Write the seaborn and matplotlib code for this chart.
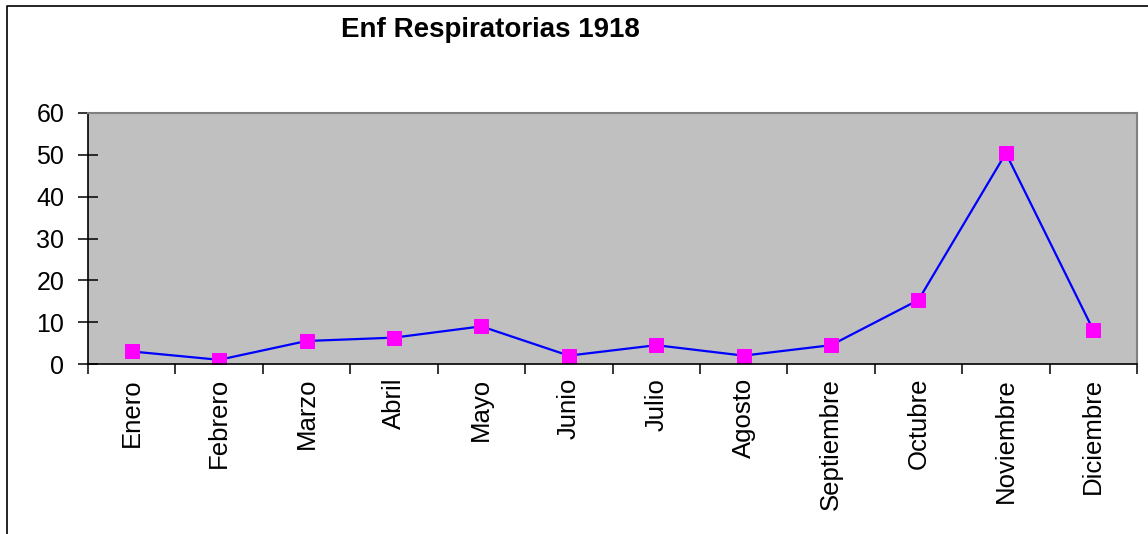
import numpy as np
import pandas as pd
import matplotlib
matplotlib.use("Agg")
import matplotlib.pyplot as plt
import seaborn as sns
from matplotlib.lines import Line2D

meses = ["Enero", "Febrero", "Marzo", "Abril", "Mayo", "Junio", "Julio",
         "Agosto", "Septiembre", "Octubre", "Noviembre", "Diciembre"]
casos = [3, 1, 5.5, 6.3, 9, 2, 4.5, 2, 4.5, 15.3, 50.4, 8.1]
titulo = "Enf Respiratorias 1918"
y_ticks = [0, 10, 20, 30, 40, 50, 60]

df = pd.DataFrame({"mes": meses, "casos": casos})
df["pos"] = np.arange(len(meses))

sns.set_style("white")
plt.rcParams["font.family"] = ["Liberation Sans", "DejaVu Sans"]
plt.rcParams["text.color"] = "black"
plt.rcParams["xtick.color"] = "black"
plt.rcParams["ytick.color"] = "black"

W, H = 1148, 534
fig = plt.figure(figsize=(W / 100, H / 100), dpi=100)
ax = fig.add_axes([88 / W, 1 - 364 / H, (1137 - 88) / W, (364 - 113) / H])
ax.set_facecolor("#C0C0C0")

sns.lineplot(data=df, x="pos", y="casos", ax=ax, color="#0000FF", linewidth=1.6,
             marker="s", markersize=9.5, markerfacecolor="#FF00FF",
             markeredgecolor="#FF00FF", sort=False)

ax.set_xlim(-0.5, len(meses) - 0.5)
ax.set_ylim(0, 60)
ax.set_xlabel("")
ax.set_ylabel("")

ax.set_xticks(df["pos"])
ax.set_xticklabels(meses, rotation=90, fontsize=18.5, va="top")
ax.set_xticks(np.arange(-0.5, len(meses)), minor=True)
ax.tick_params(axis="x", which="major", bottom=True, length=0, pad=10)
ax.tick_params(axis="x", which="minor", bottom=True, length=7, width=1.1,
               direction="out", color="black")

ax.set_yticks(y_ticks)
ax.tick_params(axis="y", which="major", left=True, length=14, width=1.1,
               direction="inout", labelsize=18, pad=10, color="black")

for s in ["left", "bottom"]:
    ax.spines[s].set_color("black")
    ax.spines[s].set_linewidth(1.2)
for s in ["top", "right"]:
    ax.spines[s].set_color("#808080")
    ax.spines[s].set_linewidth(1.5)

fig.text(490 / W, 1 - 30 / H, titulo, ha="center", va="center",
         fontsize=20, fontweight="bold")

# marco exterior del grafico
fig.add_artist(Line2D([7 / W, 7 / W, 1], [0, 1 - 6 / H, 1 - 6 / H],
                      transform=fig.transFigure, color="black", linewidth=1.2))

fig.savefig("out.png", dpi=100)
